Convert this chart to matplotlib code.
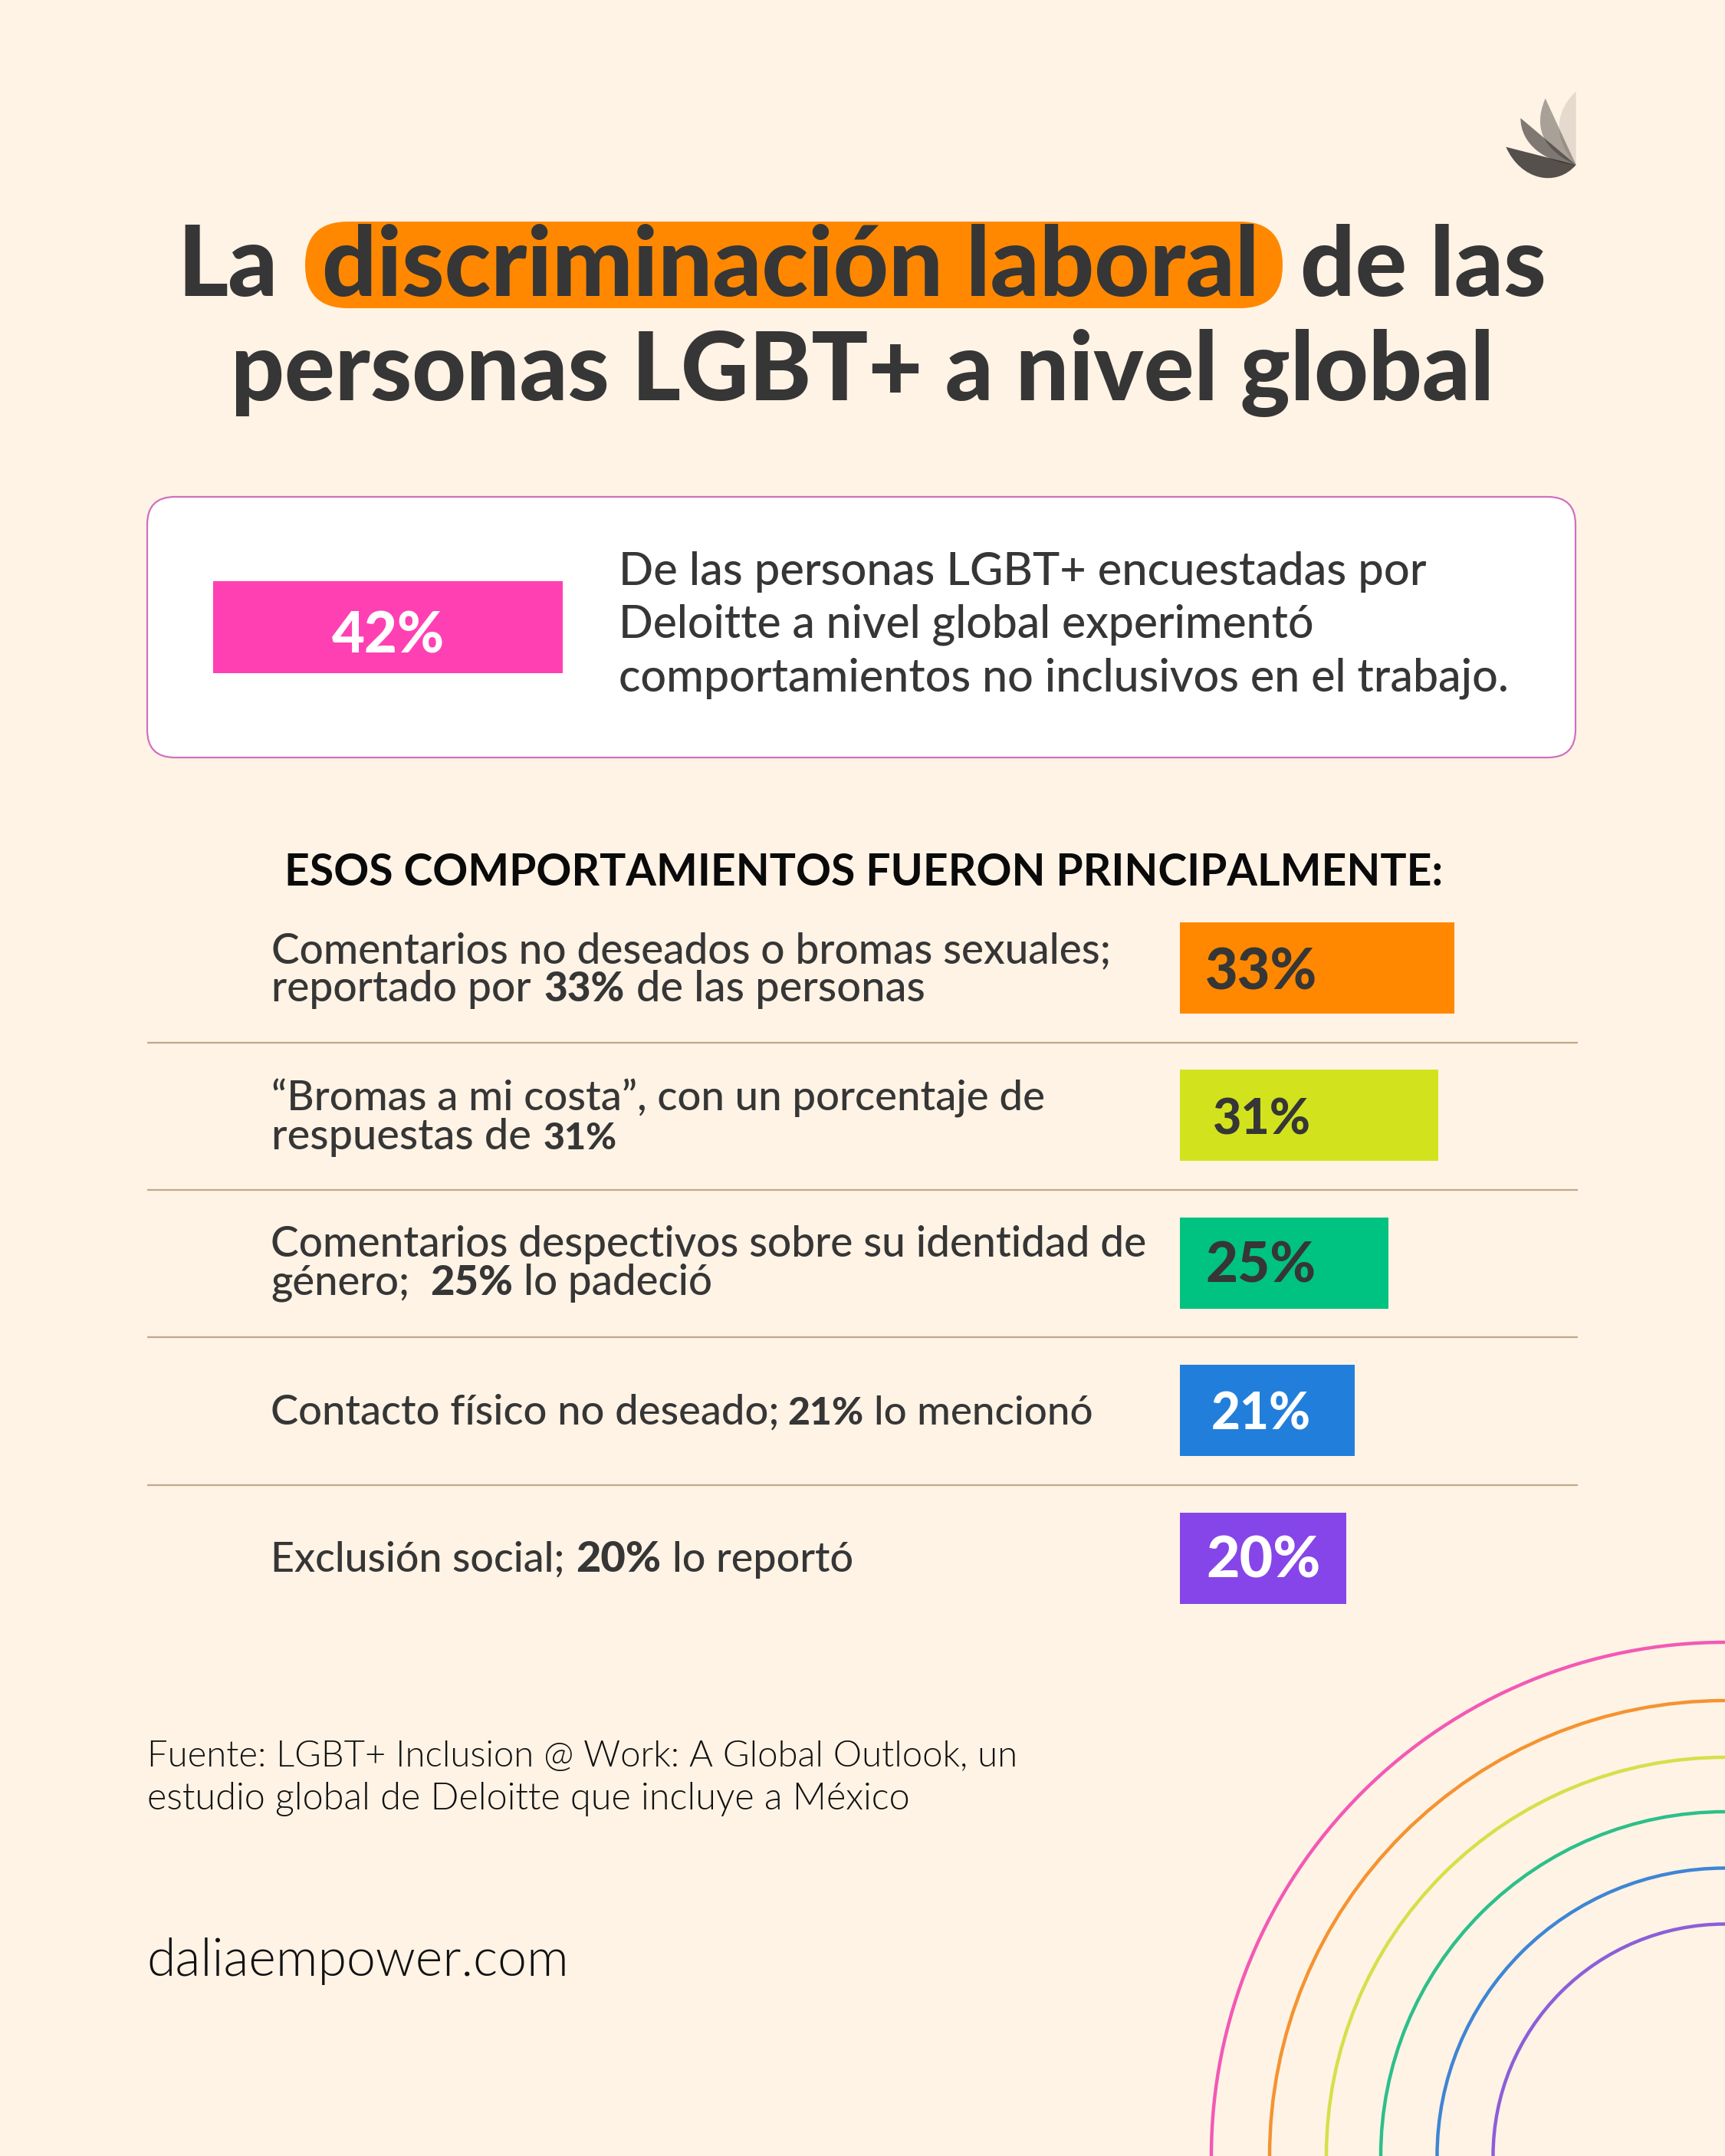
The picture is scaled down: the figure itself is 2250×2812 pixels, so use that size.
import matplotlib
matplotlib.use('agg')
import matplotlib.pyplot as plt
from matplotlib.patches import Circle, FancyBboxPatch, PathPatch
from matplotlib.path import Path

W, H = 2250, 2812

# datos
total_valor = 42
valores = [33, 31, 25, 21, 20]
colores = ['#FF8800', '#D2E31E', '#00C281', '#217FDB', '#8645E8']
colores_etiqueta = ['#363636', '#363636', '#363636', '#FFFFFF', '#FFFFFF']

titulo = ['La', 'discriminación laboral', 'de las', 'personas LGBT+ a nivel global']
texto_caja = ['De las personas LGBT+ encuestadas por',
              'Deloitte a nivel global experimentó',
              'comportamientos no inclusivos en el trabajo.']
encabezado = 'ESOS COMPORTAMIENTOS FUERON PRINCIPALMENTE:'
fuente_txt = ['Fuente: LGBT+ Inclusion @ Work: A Global Outlook, un',
              'estudio global de Deloitte que incluye a México']
sitio = 'daliaempower.com'

colores_arco = ['#F359B5', '#F59331', '#D5E04A', '#2DBF8A', '#3F85D4', '#8C5FD8']

# medidas de la composicion
anchos_etiqueta = [146, 128, 144, 130, 149]
centros_etiqueta = [9.76, 9.76, 9.76, 9.76, 10.0]
bajadas_etiqueta = [0.145, 0.13, 0.13, 0.13, 0.13]
radios_arco = [670, 594, 520, 449, 375.5, 302.5]

FONDO = '#FFF3E5'
OSCURO = '#363636'
ESCALA = 10.86  # px por punto porcentual

plt.rcParams['font.family'] = ['Lato', 'DejaVu Sans']

fig = plt.figure(figsize=(W / 100, H / 100), dpi=100, facecolor=FONDO)
ax = fig.add_axes([0, 0, 1, 1], zorder=0)
ax.set_xlim(0, W)
ax.set_ylim(H, 0)
ax.axis('off')
rend = fig.canvas.get_renderer()


def texto(eje, x, y, s, ancho, weight=500, color=OSCURO, ha='left', va='baseline'):
    # ajusta el tamaño de la fuente al ancho medido en la referencia
    t = eje.text(x, y, s, fontsize=40, fontweight=weight, color=color, ha=ha, va=va)
    t.set_fontsize(40 * ancho / t.get_window_extent(rend).width)
    return t


# titulo
ax.add_patch(FancyBboxPatch((398, 289), 1275, 113, boxstyle='round,pad=0,rounding_size=56',
                            fc='#FF8800', ec='none'))
texto(ax, 231, 386, titulo[0], 131, 900)
texto(ax, 420, 386, titulo[1], 1221, 900)
texto(ax, 1696, 386, titulo[2], 321, 900)
texto(ax, 301, 522, titulo[3], 1644, 900)

# logo
P = lambda x, y: (1900 + x / 3, 90 + y / 3)
base = P(467, 375)
codigos = [Path.MOVETO, Path.CURVE4, Path.CURVE4, Path.CURVE4, Path.LINETO, Path.CLOSEPOLY]
petalos = [
    ([P(467, 88), P(420, 130), P(345, 240), base, P(467, 88), P(467, 88)], 0.12),
    ([P(347, 115), P(315, 190), P(300, 300), base, P(347, 115), P(347, 115)], 0.4),
    ([P(250, 192), P(250, 290), P(340, 365), base, P(250, 192), P(250, 192)], 0.6),
    ([P(193, 305), P(250, 435), P(390, 465), base, P(193, 305), P(193, 305)], 0.8),
]
for verts, alfa in petalos:
    ax.add_patch(PathPatch(Path(verts, codigos), fc='#2A2725', ec='none', alpha=alfa))

# caja superior
caja = FancyBboxPatch((192, 648), 1863, 340, boxstyle='round,pad=0,rounding_size=36',
                      fc='white', ec='#D070C0', lw=1.6)
ax.add_patch(caja)
texto(ax, 807, 763, texto_caja[0], 1052)
texto(ax, 807, 832, texto_caja[1], 905)
texto(ax, 807, 901, texto_caja[2], 1158)

ax_total = fig.add_axes([278 / W, 1 - 878 / H, 60 * ESCALA / W, 120 / H], zorder=2)
ax_total.set_xlim(0, 60)
ax_total.set_ylim(0, 1)
ax_total.axis('off')
ax_total.barh([0.5], [total_valor], height=1, color='#FF40B3')
texto(ax_total, total_valor / 2, 0.225, f'{total_valor}%', 147, 900, 'white', ha='center')

# encabezado
texto(ax, 371, 1155, encabezado, 1510, 'bold', '#0A0A0A')

# barras
ax_barras = fig.add_axes([1539 / W, 1 - 2128.5 / H, 60 * ESCALA / W, 962.5 / H], zorder=2)
ax_barras.set_xlim(0, 60)
ax_barras.set_ylim(4.5, -0.5)
ax_barras.axis('off')
ax_barras.barh(range(len(valores)), valores, height=0.618, color=colores)
for i, v in enumerate(valores):
    texto(ax_barras, centros_etiqueta[i], i + bajadas_etiqueta[i], f'{v}%', anchos_etiqueta[i],
          900, colores_etiqueta[i], ha='center')

# textos de las filas
texto(ax, 354, 1256, 'Comentarios no deseados o bromas sexuales;', 1095)
texto(ax, 354, 1306, 'reportado por', 338)
texto(ax, 709, 1306, f'{valores[0]}%', 105, 900)
texto(ax, 830, 1306, 'de las personas', 376)

texto(ax, 354, 1449, '“Bromas a mi costa”, con un porcentaje de', 1007)
texto(ax, 354, 1499, 'respuestas de', 338)
texto(ax, 709, 1499, f'{valores[1]}%', 96, 900)

texto(ax, 353, 1639, 'Comentarios despectivos sobre su identidad de', 1141)
texto(ax, 353, 1689, 'género;', 181)
texto(ax, 561, 1689, f'{valores[2]}%', 108, 900)
texto(ax, 683, 1689, 'lo padeció', 246)

texto(ax, 353, 1858, 'Contacto físico no deseado;', 662)
texto(ax, 1027, 1858, f'{valores[3]}%', 99, 900)
texto(ax, 1140, 1858, 'lo mencionó', 285)

texto(ax, 353, 2050, 'Exclusión social;', 384)
texto(ax, 751, 2050, f'{valores[4]}%', 111, 900)
texto(ax, 877, 2050, 'lo reportó', 236)

for y in [1360, 1552, 1744, 1937]:
    ax.plot([192, 2058], [y, y], color='#BFA98A', lw=1.6, solid_capstyle='butt')

# fuente y sitio
texto(ax, 192, 2304, fuente_txt[0], 1133, 300, '#111111')
texto(ax, 192, 2360, fuente_txt[1], 994, 300, '#111111')
texto(ax, 191, 2577, sitio, 550, 300, '#111111')

# arcos
for r, c in zip(radios_arco, colores_arco):
    ax.add_patch(Circle((W, H), r, fill=False, ec=c, lw=3.2))

fig.savefig('out.png', dpi=100, facecolor=FONDO)
